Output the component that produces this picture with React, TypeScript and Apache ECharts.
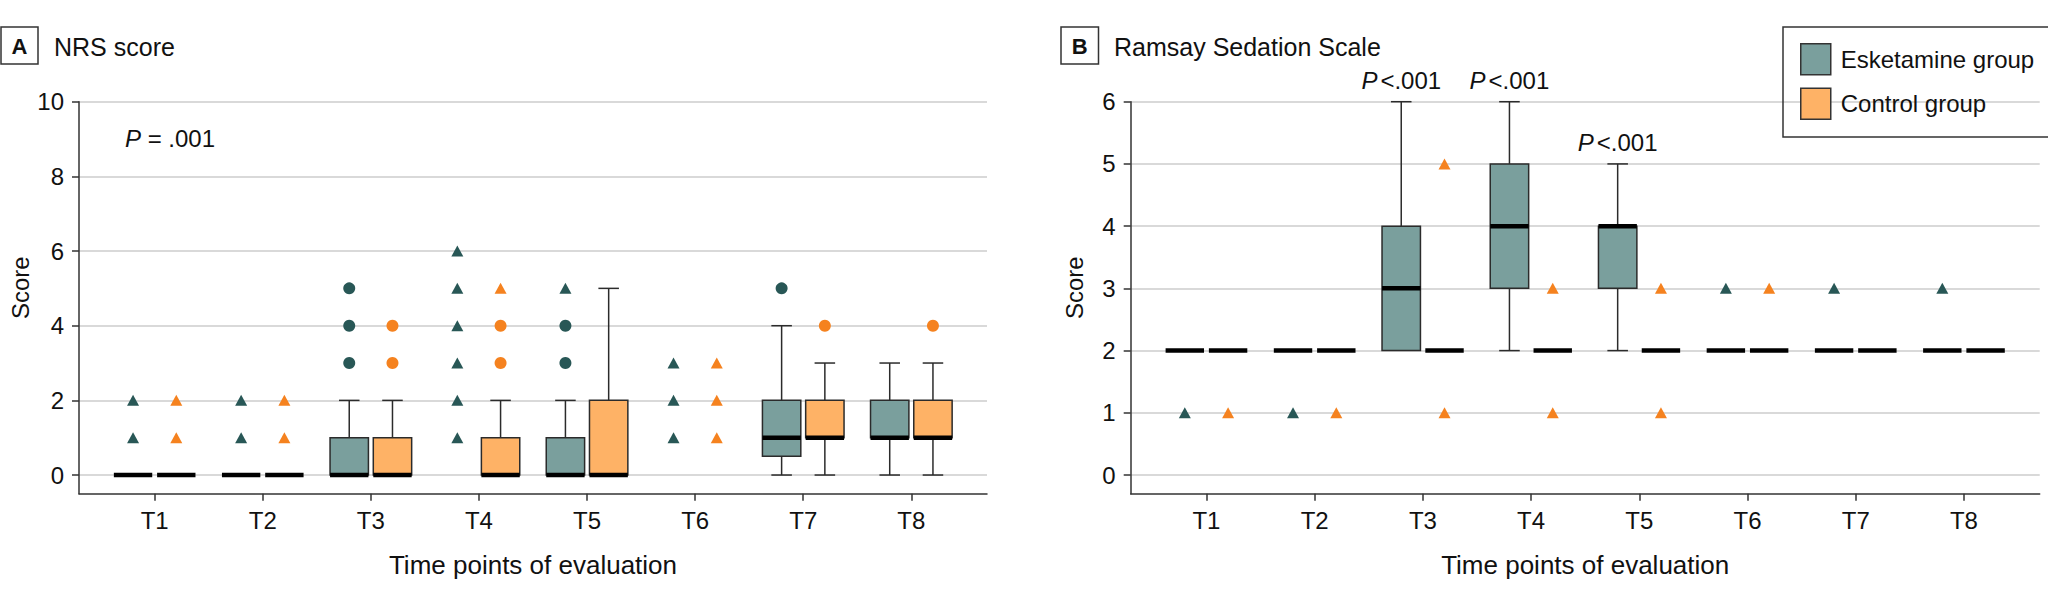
import React, { useEffect, useRef } from "react";
import * as echarts from "echarts";

// ---------- data ----------
const timePoints = ["T1", "T2", "T3", "T4", "T5", "T6", "T7", "T8"];
const timeIndex = [1, 2, 3, 4, 5, 6, 7, 8];
const nrsTicks = [0, 2, 4, 6, 8, 10];
const ramsayTicks = [0, 1, 2, 3, 4, 5, 6];

// [whisker low, Q1, median, Q3, whisker high] per time point (null = no box drawn)
const nrsEsketamine = [
  [0, 0, 0, 0, 0], [0, 0, 0, 0, 0], [0, 0, 0, 1, 2], null,
  [0, 0, 0, 1, 2], null, [0, 0.5, 1, 2, 4], [0, 1, 1, 2, 3],
];
const nrsControl = [
  [0, 0, 0, 0, 0], [0, 0, 0, 0, 0], [0, 0, 0, 1, 2], [0, 0, 0, 1, 2],
  [0, 0, 0, 2, 5], null, [0, 1, 1, 2, 3], [0, 1, 1, 2, 3],
];
// outliers: [time point, score]
const nrsEskTriangles = [[1, 1], [1, 2], [2, 1], [2, 2], [4, 1], [4, 2], [4, 3], [4, 4], [4, 5], [4, 6], [5, 5], [6, 1], [6, 2], [6, 3]];
const nrsEskCircles = [[3, 3], [3, 4], [3, 5], [5, 3], [5, 4], [7, 5]];
const nrsCtlTriangles = [[1, 1], [1, 2], [2, 1], [2, 2], [4, 5], [6, 1], [6, 2], [6, 3]];
const nrsCtlCircles = [[3, 3], [3, 4], [4, 3], [4, 4], [7, 4], [8, 4]];

const ramsayEsketamine = [
  [2, 2, 2, 2, 2], [2, 2, 2, 2, 2], [2, 2, 3, 4, 6], [2, 3, 4, 5, 6],
  [2, 3, 4, 4, 5], [2, 2, 2, 2, 2], [2, 2, 2, 2, 2], [2, 2, 2, 2, 2],
];
const ramsayControl = [
  [2, 2, 2, 2, 2], [2, 2, 2, 2, 2], [2, 2, 2, 2, 2], [2, 2, 2, 2, 2],
  [2, 2, 2, 2, 2], [2, 2, 2, 2, 2], [2, 2, 2, 2, 2], [2, 2, 2, 2, 2],
];
const ramsayEskTriangles = [[1, 1], [2, 1], [6, 3], [7, 3], [8, 3]];
const ramsayCtlTriangles = [[1, 1], [2, 1], [3, 5], [3, 1], [4, 3], [4, 1], [5, 3], [5, 1], [6, 3]];
const ramsayPTimes = [3, 4, 5];
const ramsayPText = "<.001";
const nrsPText = " = .001";

// ---------- styles ----------
const FONT = "'Liberation Sans', Arial, sans-serif";
const TEXT = "#111111";
const AXIS = "#333333";
const GRID = "#d9d9d9";
const ESK_FILL = "#7a9f9d";
const CTL_FILL = "#feb266";
const ESK_DARK = "#285756";
const CTL_DARK = "#f5821f";
const OFFSET = 0.2;
const BOX_W = 0.355;
const CAP_W = 0.19;

function boxSeries(name: string, stats: any[], gi: number, offset: number, fill: string) {
  const data: number[][] = [];
  stats.forEach((s, i) => {
    if (s) data.push([timeIndex[i], ...s]);
  });
  return {
    type: "custom",
    name,
    xAxisIndex: gi,
    yAxisIndex: gi,
    data,
    encode: { x: 0, y: [1, 2, 3, 4, 5] },
    itemStyle: { color: fill, borderColor: AXIS },
    z: 3,
    silent: true,
    renderItem: (params: any, api: any) => {
      const t = api.value(0) + offset;
      const lo = api.value(1), q1 = api.value(2), med = api.value(3), q3 = api.value(4), hi = api.value(5);
      const hw = BOX_W / 2, cw = CAP_W / 2;
      const c = (x: number, y: number) => api.coord([x, y]);
      const thin = { stroke: "#2b2b2b", lineWidth: 1.5 };
      const seg = (a: number[], b: number[], style: any) => ({
        type: "line",
        shape: { x1: a[0], y1: a[1], x2: b[0], y2: b[1] },
        style,
      });
      const children: any[] = [];
      if (hi > q3) {
        children.push(seg(c(t, q3), c(t, hi), thin));
        children.push(seg(c(t - cw, hi), c(t + cw, hi), thin));
      }
      if (lo < q1) {
        children.push(seg(c(t, q1), c(t, lo), thin));
        children.push(seg(c(t - cw, lo), c(t + cw, lo), thin));
      }
      if (q3 > q1) {
        const tl = c(t - hw, q3), br = c(t + hw, q1);
        children.push({
          type: "rect",
          shape: { x: tl[0], y: tl[1], width: br[0] - tl[0], height: br[1] - tl[1] },
          style: { fill, stroke: "#2b2b2b", lineWidth: 1.5 },
        });
      }
      children.push(seg(c(t - hw, med), c(t + hw, med), { stroke: "#000", lineWidth: 4.5 }));
      return { type: "group", children };
    },
  };
}

function outlierSeries(name: string, pts: number[][], gi: number, offset: number, symbol: string, color: string) {
  return {
    type: "scatter",
    name,
    xAxisIndex: gi,
    yAxisIndex: gi,
    data: pts.map(([t, v]) => [t + offset, v]),
    symbol,
    symbolSize: symbol === "triangle" ? [12, 11] : 12,
    itemStyle: { color, opacity: 1 },
    z: 4,
    silent: true,
  };
}

function xAxisFor(gi: number) {
  return {
    type: "value",
    gridIndex: gi,
    min: 0.3,
    max: 8.7,
    minInterval: 1,
    maxInterval: 1,
    name: "Time points of evaluation",
    nameLocation: "middle",
    nameGap: 58,
    nameTextStyle: { fontSize: 26, color: TEXT, fontFamily: FONT },
    axisLine: { show: true, onZero: false, lineStyle: { color: AXIS, width: 1.5 } },
    axisTick: { show: true, length: 7, customValues: timeIndex, lineStyle: { color: AXIS, width: 1.5 } },
    axisLabel: {
      customValues: timeIndex,
      formatter: (v: number) => (Number.isInteger(v) ? timePoints[v - 1] || "" : ""),
      margin: 15,
      fontSize: 24,
      color: TEXT,
      fontFamily: FONT,
    },
    splitLine: { show: false },
  };
}

function yAxisFor(gi: number, min: number, max: number, step: number, ticks: number[], gap: number) {
  return {
    type: "value",
    gridIndex: gi,
    min,
    max,
    minInterval: step,
    maxInterval: step,
    name: "Score",
    nameLocation: "middle",
    nameGap: gap,
    nameRotate: 90,
    nameTextStyle: { fontSize: 24, color: TEXT, fontFamily: FONT, padding: [0, 0, 0, 20] },
    axisLine: { show: true, onZero: false, lineStyle: { color: AXIS, width: 1.5 } },
    axisTick: { show: true, length: 7, customValues: ticks, lineStyle: { color: AXIS, width: 1.5 } },
    axisLabel: {
      customValues: ticks,
      formatter: (v: number) => (Number.isInteger(v) ? String(v) : ""),
      margin: 15,
      fontSize: 24,
      color: TEXT,
      fontFamily: FONT,
    },
    splitLine: { show: true, lineStyle: { color: GRID, width: 2 } },
  };
}

export default function App() {
  const ref = useRef<HTMLDivElement>(null);
  useEffect(() => {
    document.body.style.margin = "0";
    if (!ref.current) return;
    const chart = echarts.init(ref.current, null, { renderer: "svg" });
    const option: any = {
      animation: false,
      backgroundColor: "#ffffff",
      textStyle: { fontFamily: FONT, color: TEXT },
      grid: [
        { left: 79, top: 101.7, width: 908, height: 392 },
        { left: 1130.7, top: 101.7, width: 909, height: 392 },
      ],
      xAxis: [xAxisFor(0), xAxisFor(1)],
      yAxis: [
        yAxisFor(0, -0.5, 10, 2, nrsTicks, 47),
        yAxisFor(1, -0.3, 6, 1, ramsayTicks, 44),
      ],
      legend: {
        left: 1783,
        top: 27,
        orient: "vertical",
        selectedMode: false,
        icon: "rect",
        itemWidth: 30,
        itemHeight: 31,
        itemGap: 12,
        padding: [16, 15, 17, 17],
        borderColor: AXIS,
        borderWidth: 1.5,
        textStyle: { fontSize: 24, color: TEXT, fontFamily: FONT, width: 190, padding: [0, 0, 0, 5] },
        data: [
          { name: "Esketamine group", itemStyle: { color: ESK_FILL, borderColor: AXIS, borderWidth: 1.5 } },
          { name: "Control group", itemStyle: { color: CTL_FILL, borderColor: AXIS, borderWidth: 1.5 } },
        ],
      },
      graphic: [
        { type: "rect", shape: { x: 1, y: 27, width: 37, height: 37 }, style: { fill: "none", stroke: AXIS, lineWidth: 1.5 } },
        { type: "text", x: 19.5, y: 46, style: { text: "A", fill: TEXT, font: `bold 22px ${FONT}`, align: "center", verticalAlign: "middle", textAlign: "center", textVerticalAlign: "middle" } },
        { type: "text", x: 54, y: 47, style: { text: "NRS score", fill: TEXT, font: `25px ${FONT}`, verticalAlign: "middle", textVerticalAlign: "middle" } },
        { type: "rect", shape: { x: 1061, y: 27, width: 37.5, height: 37 }, style: { fill: "none", stroke: AXIS, lineWidth: 1.5 } },
        { type: "text", x: 1079.7, y: 46, style: { text: "B", fill: TEXT, font: `bold 22px ${FONT}`, align: "center", verticalAlign: "middle", textAlign: "center", textVerticalAlign: "middle" } },
        { type: "text", x: 1114, y: 47, style: { text: "Ramsay Sedation Scale", fill: TEXT, font: `25px ${FONT}`, verticalAlign: "middle", textVerticalAlign: "middle" } },
        {
          type: "text", x: 125, y: 138,
          style: {
            text: "{i|P}" + nrsPText, fill: TEXT, font: `24px ${FONT}`, verticalAlign: "middle", textVerticalAlign: "middle",
            rich: { i: { fontStyle: "italic", fontSize: 24, fontFamily: FONT, fill: TEXT, color: TEXT } },
          },
        },
      ],
      series: [
        boxSeries("Esketamine group", nrsEsketamine, 0, -OFFSET, ESK_FILL),
        boxSeries("Control group", nrsControl, 0, OFFSET, CTL_FILL),
        boxSeries("Esketamine group", ramsayEsketamine, 1, -OFFSET, ESK_FILL),
        boxSeries("Control group", ramsayControl, 1, OFFSET, CTL_FILL),
        outlierSeries("Esketamine outliers (triangle)", nrsEskTriangles, 0, -OFFSET, "triangle", ESK_DARK),
        outlierSeries("Esketamine outliers (circle)", nrsEskCircles, 0, -OFFSET, "circle", ESK_DARK),
        outlierSeries("Control outliers (triangle)", nrsCtlTriangles, 0, OFFSET, "triangle", CTL_DARK),
        outlierSeries("Control outliers (circle)", nrsCtlCircles, 0, OFFSET, "circle", CTL_DARK),
        outlierSeries("Esketamine Ramsay outliers", ramsayEskTriangles, 1, -OFFSET, "triangle", ESK_DARK),
        outlierSeries("Control Ramsay outliers", ramsayCtlTriangles, 1, OFFSET, "triangle", CTL_DARK),
        {
          type: "scatter",
          name: "P values",
          xAxisIndex: 1,
          yAxisIndex: 1,
          data: ramsayPTimes.map((t) => [t - OFFSET, ramsayEsketamine[t - 1][4]]),
          symbolSize: 0,
          silent: true,
          z: 5,
          itemStyle: { opacity: 1 },
          label: {
            show: true,
            position: "top",
            distance: 8,
            formatter: "{i|P}" + ramsayPText,
            fontSize: 24,
            color: TEXT,
            opacity: 1,
            fontFamily: FONT,
            lineHeight: 26,
            rich: { i: { fontStyle: "italic", fontSize: 24, color: TEXT, fontFamily: FONT, lineHeight: 26, padding: [0, 3, 0, 0] } },
          },
        },
      ],
    };
    chart.setOption(option);
    return () => chart.dispose();
  }, []);
  return <div ref={ref} style={{ width: 2048, height: 601 }} />;
}
